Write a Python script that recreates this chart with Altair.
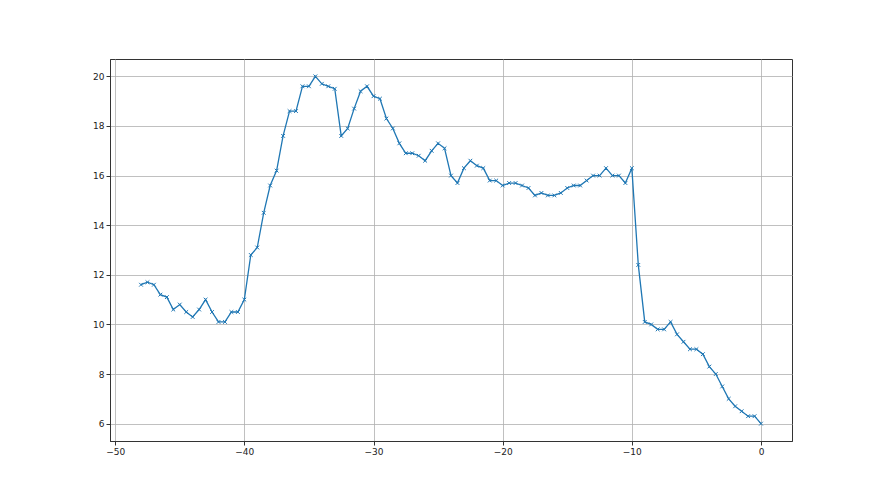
import altair as alt
import pandas as pd

x_vals = [i * 0.5 - 48 for i in range(97)]
y_vals = [
    11.6, 11.7, 11.6, 11.2, 11.1, 10.6, 10.8, 10.5, 10.3, 10.6,
    11.0, 10.5, 10.1, 10.1, 10.5, 10.5, 11.0, 12.8, 13.1, 14.5,
    15.6, 16.2, 17.6, 18.6, 18.6, 19.6, 19.6, 20.0, 19.7, 19.6,
    19.5, 17.6, 17.9, 18.7, 19.4, 19.6, 19.2, 19.1, 18.3, 17.9,
    17.3, 16.9, 16.9, 16.8, 16.6, 17.0, 17.3, 17.1, 16.0, 15.7,
    16.3, 16.6, 16.4, 16.3, 15.8, 15.8, 15.6, 15.7, 15.7, 15.6,
    15.5, 15.2, 15.3, 15.2, 15.2, 15.3, 15.5, 15.6, 15.6, 15.8,
    16.0, 16.0, 16.3, 16.0, 16.0, 15.7, 16.3, 12.4, 10.1, 10.0,
    9.8, 9.8, 10.1, 9.6, 9.3, 9.0, 9.0, 8.8, 8.3, 8.0,
    7.5, 7.0, 6.7, 6.5, 6.3, 6.3, 6.0,
]
x_ticks = [-50, -40, -30, -20, -10, 0]
y_ticks = [6, 8, 10, 12, 14, 16, 18, 20]

df = pd.DataFrame({"x": x_vals, "y": y_vals})

xs = alt.Scale(domain=[-50.4, 2.4], nice=False, zero=False)
ys = alt.Scale(domain=[5.3, 20.7], nice=False, zero=False)

axis_common = dict(
    grid=True, gridColor="#b0b0b0", gridWidth=0.8,
    domainColor="#333333", tickColor="#333333", tickSize=4,
    labelFont="DejaVu Sans", labelFontSize=9, labelColor="#222222",
    labelPadding=2, title=None, format="d",
)

base = alt.Chart(df)
line = base.mark_line(color="#1f77b4", strokeWidth=1.3).encode(
    x=alt.X("x:Q", scale=xs, axis=alt.Axis(values=x_ticks, **axis_common)),
    y=alt.Y("y:Q", scale=ys, axis=alt.Axis(values=y_ticks, **axis_common)),
)
pts = base.mark_point(
    shape="M-1,-1L1,1M-1,1L1,-1", filled=False, color="#1f77b4",
    size=14, strokeWidth=1, opacity=1,
).encode(x="x:Q", y="y:Q")

chart = (line + pts).properties(
    width=682, height=382,
    autosize=alt.AutoSizeParams(type="none"),
    padding={"left": 102, "top": 51, "right": 80, "bottom": 46},
).configure_view(stroke="#333333", strokeWidth=1)

chart.save("out.html", embed_options={"renderer": "svg", "actions": False})
